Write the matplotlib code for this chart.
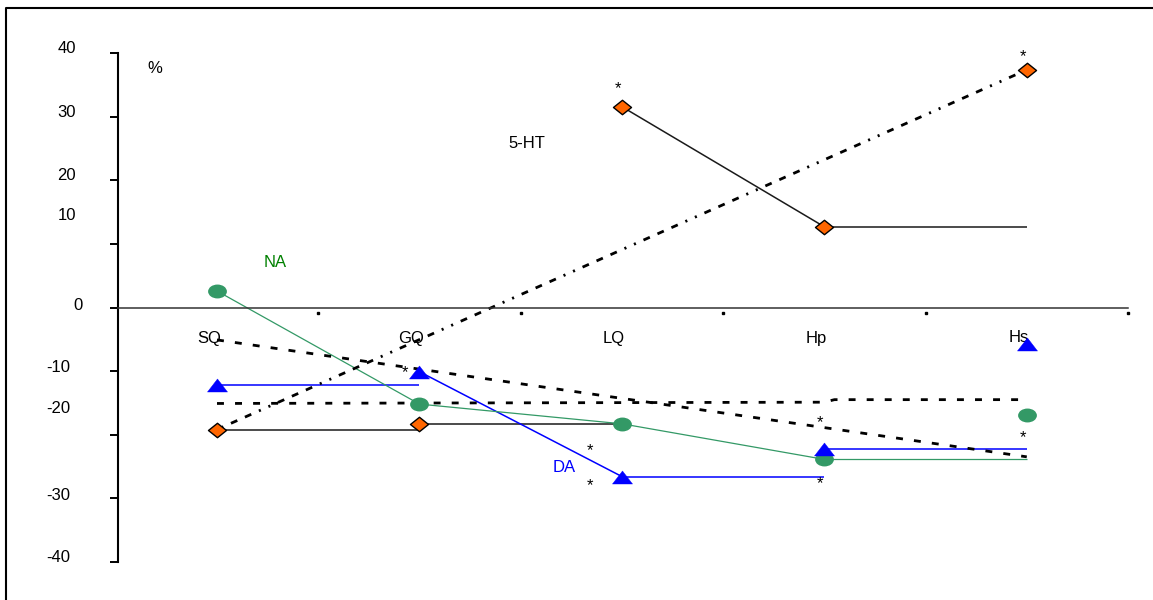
import numpy as np
import matplotlib
matplotlib.use("Agg")
import matplotlib.pyplot as plt
from matplotlib.path import Path
from matplotlib.lines import Line2D
from matplotlib import transforms

plt.rcParams['font.family'] = ['Liberation Sans', 'DejaVu Sans']
plt.rcParams['lines.scale_dashes'] = False

# ---------------------------------------------------------------- data
categories = ['SQ', 'GQ', 'LQ', 'Hp', 'Hs']

# % change per region
serotonin = [-19.2, -18.3, 31.6, 12.7, 37.4]        # 5-HT
dopamine = [-12.2, -10.1, -26.6, -22.2, -5.7]       # DA
noradrenaline = [2.6, -15.2, -18.3, -23.9, -16.9]   # NA

# connecting segments between neighbouring regions (start / end value)
serotonin_seg_start = [-19.2, -18.3, 31.6, 12.7]
serotonin_seg_end = [-19.2, -18.3, 12.7, 12.7]
dopamine_seg_start = [-12.2, -10.1, -26.6, -22.2]
dopamine_seg_end = [-12.2, -26.6, -26.6, -22.2]
noradrenaline_seg_start = [2.6, -15.2, -18.3, -23.9]
noradrenaline_seg_end = [-15.2, -18.3, -23.9, -23.9]

# dashed trend lines (region index, value)
rise_idx = [0, 4]
rise_vals = [-19.2, 37.4]
flat_idx = [0, 3, 3.05, 4]
flat_vals = [-15.1, -14.9, -14.5, -14.5]
fall_idx = [0, 4]
fall_vals = [-5.1, -23.5]

# significance marks (region index, value)
star_idx = [1.98, 3.98, 0.93, 1.84, 1.84, 2.98, 2.98, 3.98]
star_vals = [35.2, 40.2, -9.5, -21.8, -27.3, -17.4, -27.0, -19.7]

yticks = [40, 30, 20, 10, 0, -10, -20, -30, -40]
ytick_labels = ['40', '30', '20', '10', '0', '-10', '-20', '-30', '-40']

# ---------------------------------------------------------------- styles
ORANGE = '#FF6600'
BLUE = '#0000FF'
GREEN = '#339966'
FS = 12

W, H = 1153, 600
fig = plt.figure(figsize=(W / 100, H / 100), dpi=100)
ax = fig.add_axes([118 / W, (H - 561.7) / H, (1128 - 118) / W, (561.7 - 53.3) / H])
ax.set_xlim(-0.489, 4.5)
ax.set_ylim(-40, 40)

for side in ('top', 'right'):
    ax.spines[side].set_visible(False)
ax.spines['left'].set_linewidth(1.5)
ax.spines['left'].set_color('black')
ax.spines['bottom'].set_position(('data', 0))
ax.spines['bottom'].set_linewidth(1.1)
ax.spines['bottom'].set_color('#333333')

ax.set_xticks([])
ax.set_yticks(yticks)
ax.set_yticklabels([])
ax.tick_params(axis='y', direction='out', length=5.5, width=1.4, color='black')

# y tick labels (a few sit off their tick)
label_pos = [40.9, 30.8, 20.9, 14.6, 0.4, -9.3, -15.8, -29.5, -39.2]
for lab, pos in zip(ytick_labels, label_pos):
    v = float(lab)
    dx = -42 if v > 0 else (-35 if v == 0 else -48)
    ax.annotate(lab, xy=(0, pos), xycoords=('axes fraction', 'data'),
                xytext=(dx, -5), textcoords='offset pixels',
                ha='right', va='baseline', fontsize=FS, annotation_clip=False)

# small dot ticks between regions, just under the zero line
dot_tr = transforms.offset_copy(ax.transData, fig=fig, y=-5, units='dots')
bounds = np.arange(len(categories)) + 0.5
ax.plot(bounds, np.zeros_like(bounds), ls='none', marker='s', ms=2.0,
        color='black', transform=dot_tr, clip_on=False)

# region labels
for i, c in enumerate(categories):
    ax.annotate(c, xy=(i, 0), xytext=(-8, -35), textcoords='offset pixels',
                ha='center', va='baseline', fontsize=FS)

# marker shapes
diamond = Path([(-1, 0), (0, 0.8), (1, 0), (0, -0.8), (-1, 0)],
               [Path.MOVETO, Path.LINETO, Path.LINETO, Path.LINETO, Path.CLOSEPOLY])
triangle = Path([(-1, -0.65), (1, -0.65), (0, 0.65), (-1, -0.65)],
                [Path.MOVETO, Path.LINETO, Path.LINETO, Path.CLOSEPOLY])
circ = Path.unit_circle()
ellipse = Path(circ.vertices * np.array([1.0, 0.72]), circ.codes)

x = np.arange(len(categories))


def segments(start, end, color, lw):
    for i, (a, b) in enumerate(zip(start, end)):
        ax.plot([x[i], x[i + 1]], [a, b], color=color, lw=lw,
                solid_capstyle='butt', zorder=2)


segments(serotonin_seg_start, serotonin_seg_end, '#1a1a1a', 1.1)
segments(dopamine_seg_start, dopamine_seg_end, BLUE, 1.1)
segments(noradrenaline_seg_start, noradrenaline_seg_end, GREEN, 0.9)

# dashed trend lines
ax.plot(rise_idx, rise_vals, color='black', lw=2.0, dash_capstyle='butt',
        dashes=[5, 6, 5, 6, 5, 6, 1.5, 6, 1.5, 6], zorder=2)
ax.plot(flat_idx, flat_vals, color='black', lw=2.0, dash_capstyle='butt',
        dashes=[5, 8], zorder=2)
ax.plot(fall_idx, fall_vals, color='black', lw=2.0, dash_capstyle='butt',
        dashes=[5, 8], zorder=2)

# markers
ax.plot(x, noradrenaline, ls='none', marker=ellipse, ms=12.5, color=GREEN,
        mec=GREEN, zorder=4, clip_on=False)
ax.plot(x, dopamine, ls='none', marker=triangle, ms=14.4, color=BLUE,
        mec=BLUE, mew=0.3, zorder=4, clip_on=False)
ax.plot(x, serotonin, ls='none', marker=diamond, ms=13.0, mfc=ORANGE,
        mec='black', mew=1.0, zorder=5, clip_on=False)

# significance asterisks
for xi, v in zip(star_idx, star_vals):
    ax.annotate('*', xy=(xi, v), xytext=(0, -9), textcoords='offset pixels',
                ha='center', va='baseline', fontsize=FS, annotation_clip=False)

# series names and unit
ax.text(-0.306, 36.9, '%', ha='center', va='baseline', fontsize=FS)
ax.text(1.531, 25.1, '5-HT', ha='center', va='baseline', fontsize=FS)
ax.text(0.286, 6.4, 'NA', ha='center', va='baseline', fontsize=FS, color='#008000')
ax.text(1.714, -25.9, 'DA', ha='center', va='baseline', fontsize=FS, color=BLUE)

# outer frame (top and left edges)
fig.add_artist(Line2D([6 / W, 6 / W, 1.0], [0, 1 - 7.5 / H, 1 - 7.5 / H],
                      transform=fig.transFigure, color='black', lw=1.5,
                      solid_capstyle='butt'))

fig.savefig('out.png', dpi=100)
